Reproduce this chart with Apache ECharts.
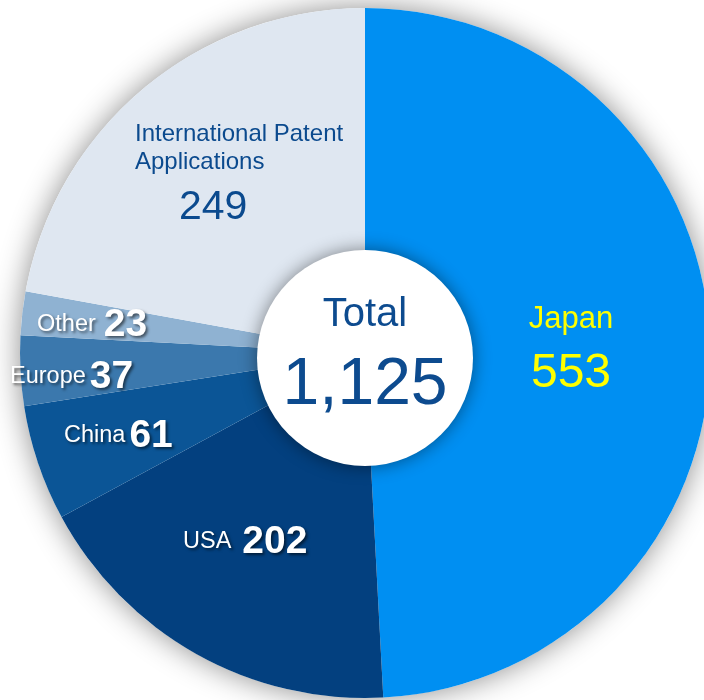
<!DOCTYPE html>
<html>
<head>
<meta charset="utf-8">
<script src="https://cdn.jsdelivr.net/npm/echarts@6/dist/echarts.min.js"></script>
<style>
  html, body { margin: 0; padding: 0; background: #fff; }
  #main { width: 704px; height: 700px; }
</style>
</head>
<body>
<div id="main"></div>
<script>
  // data
  var names = ['Japan', 'USA', 'China', 'Europe', 'Other', 'International Patent\nApplications'];
  var values = [553, 202, 61, 37, 23, 249];
  var colors = ['#008ff2', '#03407f', '#0b5596', '#3b78ad', '#8fb2d2', '#dfe7f1'];
  var totalTitle = 'Total';

  // where each label sits (left/center x, y) and gap between name and number
  var labelPos = [
    {x: 571, y: 301, align: 'center', va: 'top', gap: 0},
    {x: 183, y: 542, align: 'left', va: 'middle', gap: 11},
    {x: 64, y: 436, align: 'left', va: 'middle', gap: 4},
    {x: 10, y: 377, align: 'left', va: 'middle', gap: 4},
    {x: 37, y: 325, align: 'left', va: 'middle', gap: 8},
    {x: 135, y: 120, align: 'left', va: 'top', gap: 44}
  ];

  var total = values.reduce(function (a, b) { return a + b }, 0);
  var textFont = '"Liberation Sans", Arial, sans-serif';
  var shadowTxt = {textShadowColor: 'rgba(0,0,0,0.55)', textShadowBlur: 3, textShadowOffsetX: 2, textShadowOffsetY: 2};

  function whiteLabel(gap) {
    return {
      formatter: '{n|{b}}{v|{c}}',
      rich: {
        n: Object.assign({color: '#fff', fontSize: 23.5, fontFamily: textFont}, shadowTxt),
        v: Object.assign({color: '#fff', fontSize: 39, fontWeight: 'bold', fontFamily: textFont, padding: [0, 0, 0, gap]}, shadowTxt)
      }
    }
  }

  var data = names.map(function (n, i) {
    var item = {name: n, value: values[i], itemStyle: {color: colors[i]}};
    if (i === 0) {
      item.label = {
        formatter: '{n|{b}}\n{v|{c}}',
        rich: {
          n: {color: '#ffff00', fontSize: 31, lineHeight: 36, fontFamily: textFont, align: 'center'},
          v: {color: '#ffff00', fontSize: 48, lineHeight: 74, fontFamily: textFont, align: 'center'}
        }
      };
    } else if (i === 5) {
      item.label = {
        formatter: function (p) {
          var lines = p.name.split('\n');
          return '{n|' + lines[0] + '}\n{n|' + lines[1] + '}\n{v|' + p.value + '}';
        },
        rich: {
          n: {color: '#0b4a8e', fontSize: 24, lineHeight: 28, fontFamily: textFont},
          v: {color: '#0b4a8e', fontSize: 41, lineHeight: 64, fontFamily: textFont, padding: [0, 0, 0, labelPos[5].gap]}
        }
      };
    } else {
      item.label = whiteLabel(labelPos[i].gap);
    }
    return item;
  });

  var chart = echarts.init(document.getElementById('main'));
  chart.setOption({
    backgroundColor: '#fff',
    animation: false,
    series: [
      {
        // shadow disc behind the pie
        type: 'pie',
        silent: true,
        center: [365, 353],
        radius: [0, 345],
        label: {show: false},
        itemStyle: {color: '#fff', shadowBlur: 30, shadowColor: 'rgba(0,0,0,0.45)'},
        data: [{value: total, name: 'bg'}]
      },
      {
        type: 'pie',
        center: [365, 353],
        radius: [0, 345],
        startAngle: 90,
        clockwise: true,
        label: {show: true, position: 'inside'},
        labelLine: {show: false},
        labelLayout: function (p) {
          var lp = labelPos[p.dataIndex];
          return {x: lp.x, y: lp.y, align: lp.align, verticalAlign: lp.va};
        },
        data: data
      },
      {
        type: 'pie',
        silent: true,
        center: [365, 358],
        radius: [0, 108],
        itemStyle: {color: '#fff', shadowBlur: 18, shadowColor: 'rgba(0,0,0,0.45)'},
        label: {
          show: true,
          position: 'center',
          formatter: function (p) {
            return '{t|' + totalTitle + '}\n{v|' + p.value.toLocaleString('en-US') + '}';
          },
          rich: {
            t: {color: '#0d4b8f', fontSize: 40, lineHeight: 56, fontFamily: textFont},
            v: {color: '#0d4b8f', fontSize: 66, lineHeight: 86, fontFamily: textFont}
          }
        },
        data: [{value: total, name: totalTitle}]
      }
    ]
  });
</script>
</body>
</html>
